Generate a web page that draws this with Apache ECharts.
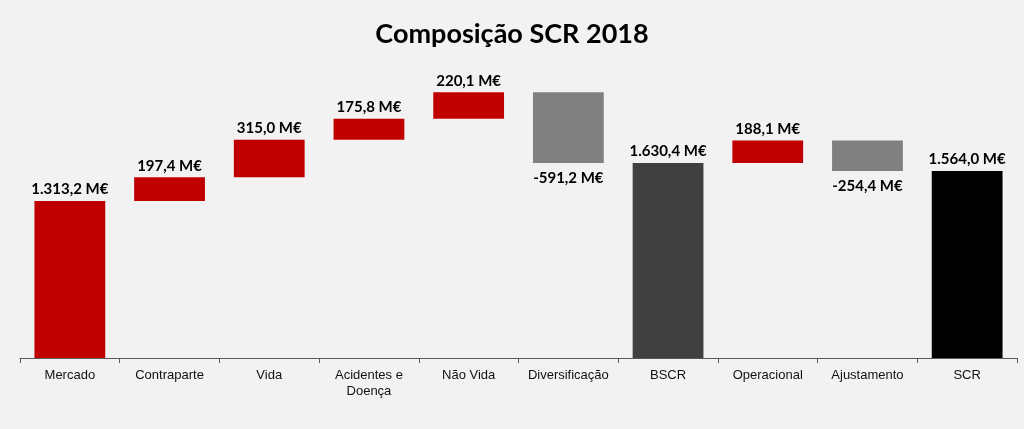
<!DOCTYPE html>
<html>
<head>
<meta charset="utf-8">
<script src="https://cdn.jsdelivr.net/npm/echarts@6/dist/echarts.min.js"></script>
<style>
html,body{margin:0;padding:0;background:#F2F2F2;}
#c{width:1024px;height:429px;}
</style>
</head>
<body>
<div id="c"></div>
<script>
const categories = ['Mercado','Contraparte','Vida','Acidentes e\nDoença','Não Vida','Diversificação','BSCR','Operacional','Ajustamento','SCR'];
const values = [1313.2, 197.4, 315.0, 175.8, 220.1, -591.2, 1630.4, 188.1, -254.4, 1564.0];
const kinds = ['delta','delta','delta','delta','delta','delta','total','delta','delta','total'];
const barColors = ['#C00000','#C00000','#C00000','#C00000','#C00000','#808080','#404040','#C00000','#808080','#000000'];

function fmt(v){
  const neg = v < 0;
  const s = Math.abs(v).toFixed(1).split('.');
  const intPart = s[0].replace(/\B(?=(\d{3})+(?!\d))/g, '.');
  return (neg ? '-' : '') + intPart + ',' + s[1] + ' M€';
}

const baseData = [];
const barData = [];
let running = 0;
values.forEach((v, i) => {
  let base, h;
  if (kinds[i] === 'total') {
    base = 0; h = v; running = v;
  } else if (v >= 0) {
    base = running; h = v; running += v;
  } else {
    running += v; base = running; h = -v;
  }
  baseData.push(base);
  barData.push({
    value: h,
    signed: v,
    itemStyle: { color: barColors[i] },
    label: v < 0 ? { position: 'bottom', distance: 8 } : { position: 'top', distance: 4 }
  });
});

const chart = echarts.init(document.getElementById('c'));
chart.setOption({
  backgroundColor: '#F2F2F2',
  animation: false,
  title: {
    text: 'Composição SCR 2018',
    left: 'center',
    top: 16,
    textStyle: { fontFamily: 'Lato', fontWeight: 'bold', fontSize: 27, color: '#000' }
  },
  grid: { left: 20, right: 7, top: 59, bottom: 71 },
  xAxis: {
    type: 'category',
    data: categories,
    axisLine: { lineStyle: { color: '#595959', width: 1 } },
    axisTick: { show: true, length: 5, lineStyle: { color: '#595959' } },
    axisLabel: { fontFamily: 'Liberation Sans', fontSize: 13, color: '#111', margin: 9, lineHeight: 16, interval: 0 }
  },
  yAxis: {
    type: 'value',
    min: 0, max: 2500,
    show: false,
    splitLine: { show: false }
  },
  series: [
    {
      type: 'bar', stack: 'w', data: baseData,
      itemStyle: { color: 'transparent' },
      barWidth: '71%',
      silent: true
    },
    {
      type: 'bar', stack: 'w', data: barData,
      barWidth: '71%',
      label: {
        show: true,
        fontFamily: 'Lato', fontWeight: 'bold', fontSize: 15, color: '#000',
        formatter: p => fmt(p.data.signed)
      }
    }
  ]
});
</script>
</body>
</html>
